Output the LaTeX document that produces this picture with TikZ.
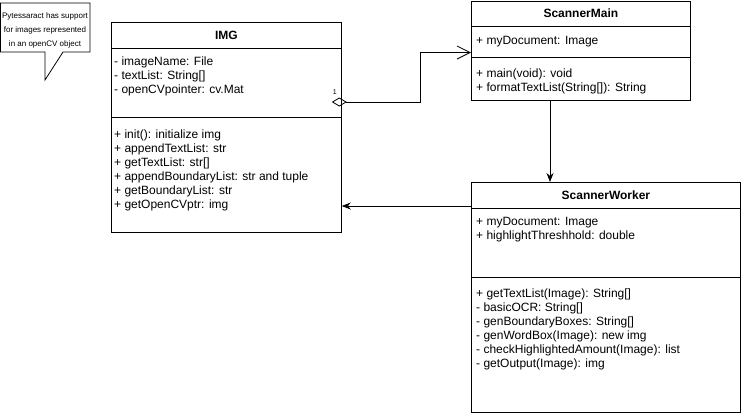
\documentclass[tikz,border=0pt]{standalone}
\usepackage{fontspec}
\setmainfont{Liberation Sans}
\usepackage{tikz}
\usetikzlibrary{positioning,calc,arrows.meta}

\tikzset{
  classbox/.style={draw, line width=0.8pt, inner sep=0pt, anchor=north west},
  classtitle/.style={font=\fontsize{12}{14}\selectfont\bfseries, inner sep=0pt},
  member/.style={anchor=west, inner sep=0pt, text height=9pt, text depth=3pt, font=\fontsize{12}{14}\selectfont},
  divider/.style={line width=0.8pt},
  assoc/.style={line width=0.8pt, {Diamond[open,length=15pt,width=9pt]}-{Straight Barb[length=13pt,width=13pt]}},
  flow/.style={line width=0.8pt, -{Stealth[length=9pt,width=7pt]}},
  notetext/.style={align=center, inner sep=0pt, font=\fontsize{8}{14}\selectfont}
}

\begin{document}
\begin{tikzpicture}[x=1pt,y=-1pt]
  \fill[white] (0,0) rectangle (741,416);
  \useasboundingbox (0,0) rectangle (741,416);

  % note
  \draw[line width=0.8pt] (0.5,3) -- (90,3) -- (90,52) -- (63,52) -- (45,80) -- (45,52) -- (0.5,52) -- cycle;
  \node[notetext] (note) at (45,30) {Pytessaract has support\\for images represented\\in an openCV object};

  % IMG
  \node[classbox, minimum width=230pt, minimum height=210pt] (img) at (111,22) {};
  \node[classtitle] (img-title) at ($(img.north)+(0,13)$) {IMG};
  \draw[divider] ($(img.north west)+(0,26)$) -- ($(img.north east)+(0,26)$);
  \draw[divider] ($(img.north west)+(0,95)$) -- ($(img.north east)+(0,95)$);
  \foreach \txt [count=\i] in {{- imageName: File}, {- textList: String[]}, {- openCVpointer: cv.Mat}}
    \node[member] (img-attr-\i) at ($(img.north west)+(3,26+14*\i)$) {\txt};
  \foreach \txt [count=\i] in {{+ init(): initialize img}, {+ appendTextList: str}, {+ getTextList: str[]},
      {+ appendBoundaryList: str and tuple}, {+ getBoundaryList: str}, {+ getOpenCVptr: img}}
    \node[member] (img-op-\i) at ($(img.north west)+(3,99+14*\i)$) {\txt};

  % ScannerMain
  \node[classbox, minimum width=219pt, minimum height=99.5pt] (main) at (471,0.5) {};
  \node[classtitle] (main-title) at ($(main.north)+(0,13)$) {ScannerMain};
  \draw[divider] ($(main.north west)+(0,26)$) -- ($(main.north east)+(0,26)$);
  \draw[divider] ($(main.north west)+(0,57)$) -- ($(main.north east)+(0,57)$);
  \node[member] (main-attr-1) at ($(main.north west)+(5,41)$) {+ myDocument: Image};
  \foreach \txt [count=\i] in {{+ main(void): void}, {+ formatTextList(String[]): String}}
    \node[member] (main-op-\i) at ($(main.north west)+(5,60+14*\i)$) {\txt};

  % ScannerWorker
  \node[classbox, minimum width=269pt, minimum height=230pt] (worker) at (471,182) {};
  \node[classtitle] (worker-title) at ($(worker.north)+(0,13)$) {ScannerWorker};
  \draw[divider] ($(worker.north west)+(0,26)$) -- ($(worker.north east)+(0,26)$);
  \draw[divider] ($(worker.north west)+(0,95)$) -- ($(worker.north east)+(0,95)$);
  \foreach \txt [count=\i] in {{+ myDocument: Image}, {+ highlightThreshhold: double}}
    \node[member] (worker-attr-\i) at ($(worker.north west)+(5,26+14*\i)$) {\txt};
  \foreach \txt [count=\i] in {{+ getTextList(Image): String[]}, {- basicOCR: String[]}, {- genBoundaryBoxes: String[]},
      {- genWordBox(Image): new img}, {- checkHighlightedAmount(Image): list}, {- getOutput(Image): img}}
    \node[member] (worker-op-\i) at ($(worker.north west)+(5,98+14*\i)$) {\txt};

  % connectors
  \coordinate (aggr-start) at ($(img.north east)+(-10,80)$);
  \coordinate (main-in) at ($(main.north west)+(0,52)$);
  \draw[assoc] (aggr-start) -- ++(89,0) |- (main-in);
  \node[font=\fontsize{7}{8}\selectfont, inner sep=0pt] (aggr-mult) at ($(aggr-start)+(3,-10)$) {1};

  \draw[flow] ($(main.south west)+(79,0)$) -- ($(worker.north west)+(79,0)$);
  \coordinate (worker-out) at ($(worker.north west)+(0,24)$);
  \draw[flow] (worker-out) -- (img.east |- worker-out);
\end{tikzpicture}
\end{document}
